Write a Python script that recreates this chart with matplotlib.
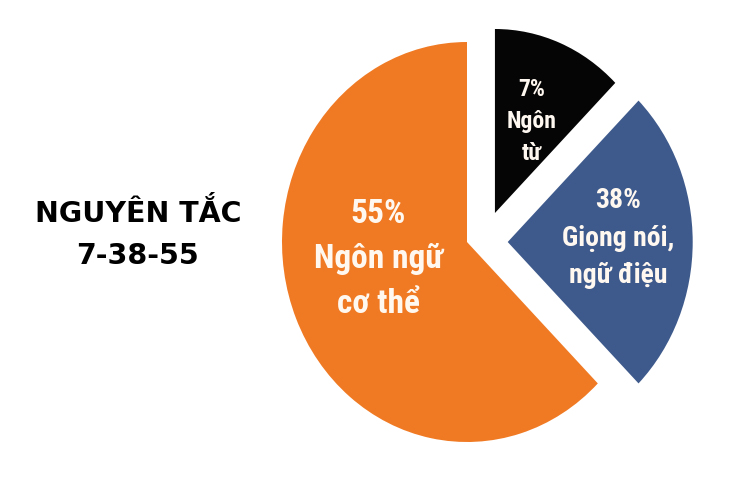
import matplotlib
matplotlib.use("Agg")
import matplotlib.pyplot as plt
from matplotlib import font_manager

# slice sizes as drawn in the picture (the graphic is not to scale)
sizes = [12.5, 25, 62.5]
percent_text = ["7%", "38%", "55%"]
names = ["Ngôn\ntừ", "Giọng nói,\nngữ điệu", "Ngôn ngữ\ncơ thể"]
colors = ["#050505", "#3E5A8C", "#F07A24"]
title = "NGUYÊN TẮC\n7-38-55"

# pick a narrow font for the slice labels if one is installed
installed = {f.name for f in font_manager.fontManager.ttflist}
narrow = "DejaVu Sans"
for name in ["Liberation Sans Narrow", "Roboto Condensed", "Open Sans Condensed", "Liberation Sans"]:
    if name in installed:
        narrow = name
        break

fig = plt.figure(figsize=(7.4, 4.86), dpi=100)
ax = fig.add_axes([0, 0, 1, 1])
ax.set_axis_off()

wedges, _ = ax.pie(sizes, colors=colors, startangle=90, counterclock=False,
                   explode=[0.2, 0.22, 0], radius=1.0)
# small slice sits up and to the right, a bit smaller
wedges[0].set_center((0.151, 0.145))
wedges[0].set_radius(0.92)

# pie centre at pixel (467, 242); 185 px per unit across, 200 px per unit down
ax.set_aspect("auto")
ax.set_xlim(-467 / 185, (740 - 467) / 185)
ax.set_ylim(-(486 - 242) / 200, 242 / 200)

label_pos = [(0.35, 0.60), (0.816, 0.02), (-0.48, -0.085)]
label_size = [17, 20, 24]
label_space = [1.5, 1.48, 1.52]
for (x, y), pct, nm, fs, ls in zip(label_pos, percent_text, names, label_size, label_space):
    ax.text(x, y, pct + "\n" + nm, ha="center", va="center", color="#FFF8F0",
            fontsize=fs, fontweight="bold", family=[narrow, "DejaVu Sans"],
            linespacing=ls)

fig.text(138 / 740, 1 - 234 / 486, title, ha="center", va="center",
         fontsize=20.5, fontweight="bold", family=["DejaVu Sans"],
         color="#000000", linespacing=1.6)

fig.savefig("out.png", dpi=100, facecolor="white")
